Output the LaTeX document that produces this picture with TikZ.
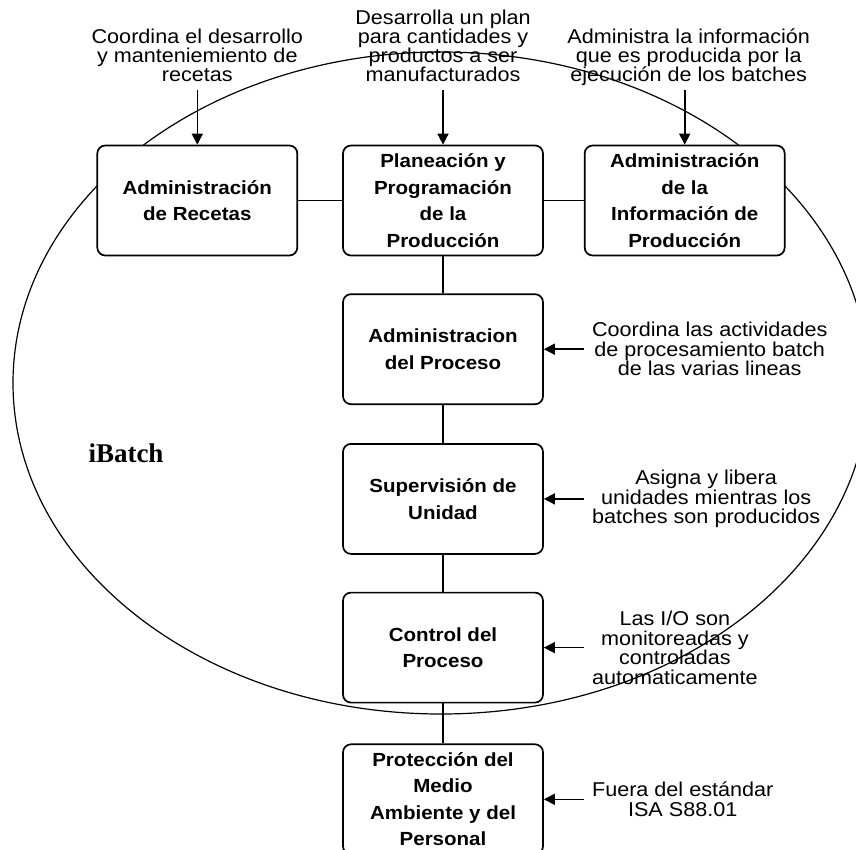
\documentclass[tikz,border=0pt]{standalone}
\usepackage{fontspec}
\setmainfont{Liberation Serif}
\newfontfamily\notefont[FakeStretch=1.08]{Liberation Sans}
\usetikzlibrary{arrows.meta, positioning}

\begin{document}
\begin{tikzpicture}[
  x=1pt, y=1pt,
  >={Triangle[length=11pt, width=11pt]},
  block/.style={rectangle, draw=black, line width=1.7pt, rounded corners=8pt, fill=white, align=center, font=\notefont\bfseries\fontsize{19}{26.5}\selectfont, minimum width=200pt, minimum height=110pt, inner sep=2pt},
  topnote/.style={align=center, font=\notefont\fontsize{20}{19}\selectfont, inner sep=8pt, text depth=0pt},
  sidenote/.style={align=center, font=\notefont\fontsize{20}{19.5}\selectfont, inner xsep=8pt, inner ysep=2pt},
  link/.style={black, line width=1.6pt}
]

\path[use as bounding box, fill=white] (0,0) rectangle (856,-849);

% Outer boundary
\draw[line width=1.2pt] (441,-383) ellipse [x radius=428pt, y radius=331pt];
\node[font=\bfseries\fontsize{27}{27}\selectfont] (ibatch) at (126,-453) {iBatch};

% Top row
\node[block] (plan) at (443,-200.5) {Planeación y\\Programación\\de la\\Producción};
\node[block, left=44pt of plan] (recetas) {Administración\\de Recetas};
\node[block, right=40pt of plan] (info) {Administración\\de la\\Información de\\Producción};

\draw[link] (recetas) -- (plan);
\draw[link] (plan) -- (info);

% Main column
\node[block, below=37pt of plan] (proceso) {Administracion\\del Proceso};
\node[block, below=38pt of proceso] (unidad) {Supervisión de\\Unidad};
\node[block, below=37pt of unidad] (control) {Control del\\Proceso};
\node[block, below=40pt of control] (proteccion) {Protección del\\Medio\\Ambiente y del\\Personal};

\foreach \i/\j in {plan/proceso, proceso/unidad, unidad/control, control/proteccion} {
    \draw[link] (\i) -- (\j);
}

% Notes above
\node[topnote, above=55pt of recetas] (n_rec) {Coordina el desarrollo\\y manteniemiento de\\recetas};
\node[topnote, above=55pt of plan] (n_plan) {Desarrolla un plan\\para cantidades y\\productos a ser\\manufacturados};
\node[topnote, above=55pt of info, xshift=4pt] (n_info) {Administra la información\\que es producida por la\\ejecución de los batches};

\draw[->, link] (n_rec.south) -- (recetas.north);
\draw[->, link] (n_plan.south) -- (plan.north);
\draw[->, link] (n_info.south -| info.north) -- (info.north);

% Notes on the right
\node[sidenote, right=40pt of proceso] (n_proc) {Coordina las actividades\\de procesamiento batch\\de las varias lineas};
\node[sidenote, right=40pt of unidad] (n_unid) {Asigna y libera\\unidades mientras los\\batches son producidos};
\node[sidenote, right=40pt of control] (n_ctrl) {Las I/O son\\monitoreadas y\\controladas\\automaticamente};
\node[sidenote, right=40pt of proteccion] (n_prot) {Fuera del estándar\\ISA S88.01};

\foreach \i/\j in {n_proc/proceso, n_unid/unidad, n_ctrl/control, n_prot/proteccion} {
    \draw[->, link] (\i.west) -- (\j.east);
}

\end{tikzpicture}
\end{document}
